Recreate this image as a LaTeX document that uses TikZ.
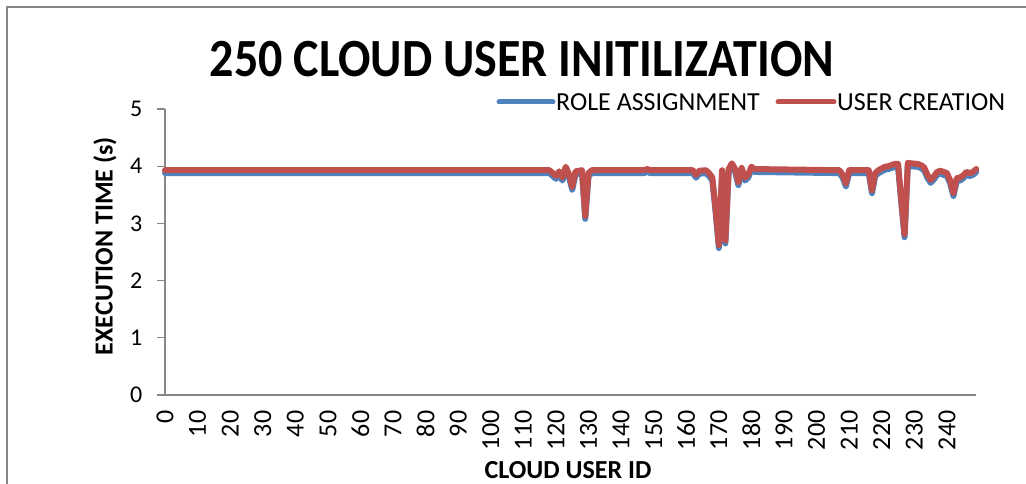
\documentclass[tikz,border=0pt]{standalone}
\usepackage{fontspec}
\setmainfont{Carlito}
\definecolor{roleblue}{HTML}{4F81BD}
\definecolor{userred}{HTML}{C0504D}
\definecolor{axisgray}{HTML}{868686}

% execution time of each cloud user (only the points where it changes)
\newcommand{\usertimes}{(0,3.93) -- (118,3.93) -- (119,3.88) -- (120,3.83) -- (121,3.91) -- (122,3.80) -- (123,3.99) -- (124,3.86) -- (125,3.64) -- (126,3.91) -- (128,3.93) -- (129,3.13) -- (130,3.88) -- (131,3.93) -- (147,3.93) -- (148,3.95) -- (149,3.93) -- (162,3.93) -- (163,3.85) -- (164,3.92) -- (166,3.93) -- (167,3.88) -- (168,3.80) -- (169,3.25) -- (170,2.62) -- (171,3.93) -- (172,2.70) -- (173,3.95) -- (174,4.05) -- (175,3.95) -- (176,3.72) -- (177,3.97) -- (178,3.80) -- (179,3.85) -- (180,3.99) -- (181,3.95) -- (207,3.93) -- (208,3.85) -- (209,3.70) -- (210,3.93) -- (216,3.93) -- (217,3.58) -- (218,3.88) -- (219,3.93) -- (220,3.96) -- (221,3.99) -- (222,4.00) -- (223,4.02) -- (224,4.04) -- (225,4.04) -- (226,3.40) -- (227,2.81) -- (228,4.06) -- (229,4.05) -- (231,4.04) -- (232,4.02) -- (233,3.98) -- (234,3.85) -- (235,3.76) -- (236,3.82) -- (237,3.90) -- (238,3.92) -- (240,3.88) -- (241,3.75) -- (242,3.53) -- (243,3.79) -- (244,3.80) -- (245,3.84) -- (246,3.90) -- (247,3.88) -- (248,3.90) -- (249,3.95)}

\begin{document}
\begin{tikzpicture}[x=1pt,y=1pt,
  axisline/.style={axisgray,line width=1.3pt},
  series/.style={line width=6pt,line join=round,line cap=round},
  ticklabel/.style={text=black,font=\fontsize{24}{24}\selectfont,inner sep=0pt},
  legendlabel/.style={anchor=west,font=\fontsize{26}{26}\selectfont,inner sep=0pt},
  axistitle/.style={font=\fontsize{26}{26}\selectfont\bfseries,inner sep=0pt}]
\useasboundingbox (0,0) rectangle (1026,483);
\draw[axisline] (7,-20) -- (7,476) -- (1040,476); % chart frame

\node[font=\fontsize{48}{48}\selectfont\bfseries,inner sep=0pt] (title) at (522,424) {\scalebox{1}[1.12]{250 CLOUD USER INITILIZATION}};

% legend
\coordinate (roleA) at (499,381);
\coordinate (roleB) at (553,381);
\draw[series,roleblue,line width=5pt] (roleA) -- (roleB);
\node[legendlabel] (rolelab) at (556,381) {ROLE ASSIGNMENT};
\coordinate (userA) at (778,381);
\coordinate (userB) at (834,381);
\draw[series,userred,line width=5pt] (userA) -- (userB);
\node[legendlabel] (userlab) at (837,381) {USER CREATION};

\node[axistitle,rotate=90] (ytitle) at (105,237) {EXECUTION TIME (s)};
\node[axistitle] (xtitle) at (568,13) {CLOUD USER ID};

\begin{scope}[shift={(165,88)},x=3.258pt,y=57.2pt]
\draw[axisline] (0,5) -- (0,0) -- (249,0); % edit here for the axes
\foreach \y in {0,...,5}
\draw[axisline,shift={(0,\y)}] (0,0) -- (-8pt,0) node[ticklabel,left=14pt] (ylab\y) {\y};
\foreach \x in {0,10,...,240} % one label every ten users
\node[ticklabel,font=\fontsize{26}{26}\selectfont,rotate=90,anchor=east] (xlab\x) at (\x,-0.27) {\x};
\draw[series,roleblue,yshift=-2.9pt] \usertimes;
\draw[series,userred] \usertimes;
\end{scope}
\end{tikzpicture}
\end{document}
